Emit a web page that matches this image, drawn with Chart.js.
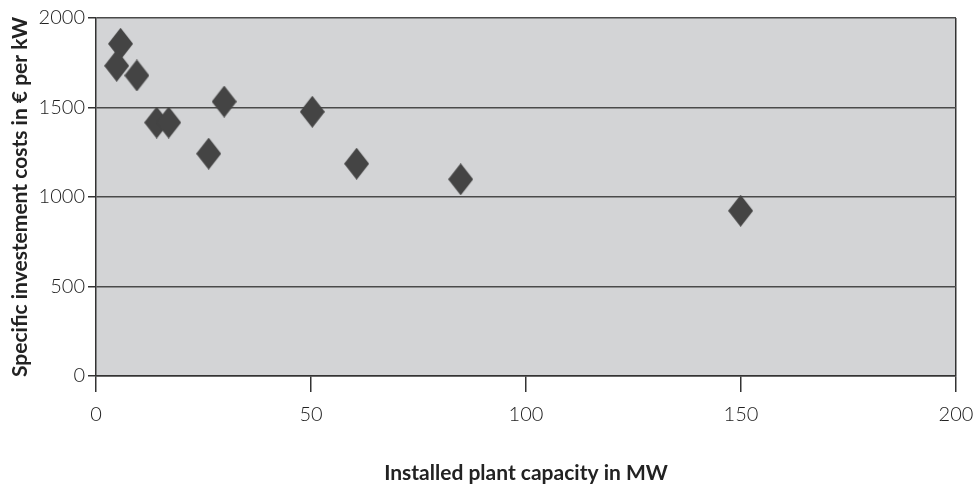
<!DOCTYPE html>
<html>
<head>
<meta charset="utf-8">
<script src="https://cdn.jsdelivr.net/npm/chart.js@4/dist/chart.umd.min.js"></script>
<style>
  html, body { margin: 0; padding: 0; background: #ffffff; }
  #wrap { width: 978px; height: 486px; }
</style>
</head>
<body>
<div id="wrap"><canvas id="c" width="978" height="486"></canvas></div>
<script>
// ---- data ----
const capacityMW = [5.7, 4.8, 9.5, 14.1, 16.9, 26.2, 29.8, 50.3, 60.6, 84.8, 149.9];
const costPerKW  = [1856, 1733, 1679, 1416, 1416, 1242, 1533, 1476, 1186, 1099, 923];
const xTicks = [0, 50, 100, 150, 200];
const yTicks = [0, 500, 1000, 1500, 2000];
const xTitle = 'Installed plant capacity in MW';
const yTitle = 'Specific investement costs in \u20AC per kW';

const points = capacityMW.map((x, i) => ({ x: x, y: costPerKW[i] }));

// diamond marker (taller than wide)
const marker = document.createElement('canvas');
marker.width = 25; marker.height = 32;
(function () {
  const m = marker.getContext('2d');
  m.fillStyle = '#444444';
  m.beginPath();
  m.moveTo(12.5, 0); m.lineTo(25, 16); m.lineTo(12.5, 32); m.lineTo(0, 16);
  m.closePath(); m.fill();
})();

const plotBg = {
  id: 'plotBg',
  beforeDraw(chart) {
    const { ctx, chartArea: a } = chart;
    ctx.save();
    ctx.fillStyle = '#d3d4d6';
    ctx.fillRect(a.left, a.top, a.right - a.left, a.bottom - a.top);
    ctx.restore();
  }
};

const tickFont = { family: 'Lato, "Open Sans", sans-serif', size: 20, weight: '300' };
const titleFont = { family: 'Lato, "Open Sans", sans-serif', size: 21, weight: 'bold' };

new Chart(document.getElementById('c'), {
  type: 'scatter',
  data: {
    datasets: [{
      data: points,
      pointStyle: marker,
      pointRadius: 13,
      pointHoverRadius: 13,
      backgroundColor: '#444444',
      borderColor: '#444444'
    }]
  },
  plugins: [plotBg],
  options: {
    responsive: false,
    animation: false,
    devicePixelRatio: 1,
    layout: { padding: { top: 18, right: 22, left: 0, bottom: 0 } },
    plugins: { legend: { display: false }, tooltip: { enabled: false } },
    scales: {
      x: {
        type: 'linear',
        min: 0, max: 200,
        afterBuildTicks(scale) { scale.ticks = xTicks.map(v => ({ value: v })); },
        afterFit(scale) { scale.height = 110; scale.paddingRight = 0; scale.paddingLeft = 0; },
        border: { display: true, color: '#333333', width: 1.5 },
        grid: {
          drawOnChartArea: true,
          drawTicks: true,
          tickLength: 16,
          lineWidth: 1.5,
          tickColor: '#333333',
          color: (ctx) => (ctx.tick && ctx.tick.value === 200 ? '#333333' : 'rgba(0,0,0,0)')
        },
        ticks: { color: '#222222', font: tickFont, padding: 11, maxRotation: 0, callback: (v) => String(v) },
        title: { display: true, text: xTitle, color: '#222222', font: titleFont, padding: { top: 0, bottom: 0 } }
      },
      y: {
        type: 'linear',
        min: 0, max: 2000,
        afterBuildTicks(scale) { scale.ticks = yTicks.map(v => ({ value: v })); },
        afterFit(scale) { scale.width = 96; },
        border: { display: true, color: '#333333', width: 1.5 },
        grid: {
          drawOnChartArea: true,
          drawTicks: true,
          tickLength: 8,
          lineWidth: 1.5,
          color: '#4a4a4a',
          tickColor: '#333333'
        },
        ticks: { color: '#222222', font: tickFont, padding: 3, callback: (v) => String(v) },
        title: { display: true, text: yTitle, color: '#222222', font: titleFont, padding: { top: 8, bottom: 0 } }
      }
    }
  }
});
</script>
</body>
</html>
